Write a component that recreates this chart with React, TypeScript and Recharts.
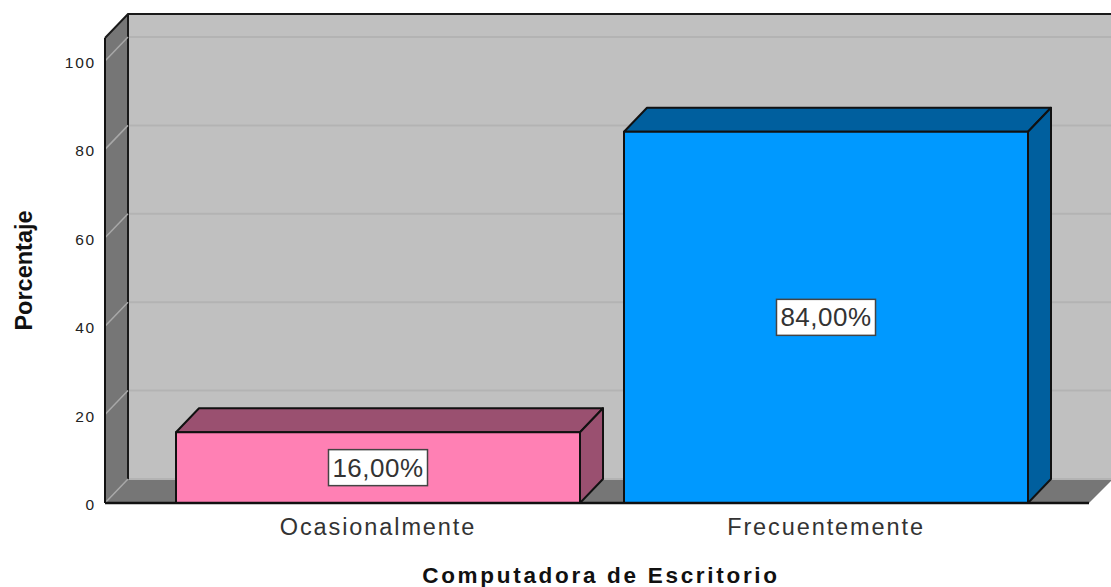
import React from 'react';
import { BarChart, Bar, XAxis, YAxis, Cell, LabelList, CartesianGrid } from 'recharts';

const categories = ['Ocasionalmente', 'Frecuentemente'];
const percentages = [16, 84];
const frontColors = ['#ff80b4', '#0099ff'];
const shadeColors = ['#9a5070', '#005f9e'];
const yTicks = [0, 20, 40, 60, 80, 100];

const data = categories.map((name, i) => ({ name, value: percentages[i] }));

const WIDTH = 1111;
const HEIGHT = 587;
const LEFT = 105;
const RIGHT = 1089;
const TOP = 38;
const BOTTOM = 503;
const DX = 23;
const DY = 24;
const FONT = '"Liberation Sans", Arial, sans-serif';

// box walls sit in their own svg behind the chart, the chart svg is transparent
const Walls = () => (
  <svg width={WIDTH} height={HEIGHT} style={{ position: 'absolute', left: 0, top: 0 }}>
    <polygon
      points={`${LEFT + DX},${TOP - DY} ${WIDTH + 2},${TOP - DY} ${WIDTH + 2},${BOTTOM - DY} ${LEFT + DX},${BOTTOM - DY}`}
      fill="#c0c0c0"
    />
    <polygon
      points={`${LEFT},${TOP} ${LEFT + DX},${TOP - DY} ${LEFT + DX},${BOTTOM - DY} ${LEFT},${BOTTOM}`}
      fill="#767676"
    />
    <polygon
      points={`${LEFT},${BOTTOM} ${LEFT + DX},${BOTTOM - DY} ${WIDTH + 2},${BOTTOM - DY} ${RIGHT},${BOTTOM}`}
      fill="#767676"
    />
    <path
      d={`M${LEFT},${TOP} L${LEFT + DX},${TOP - DY} L${WIDTH + 2},${TOP - DY} M${LEFT + DX},${TOP - DY} L${LEFT + DX},${BOTTOM - DY}`}
      fill="none"
      stroke="#1a1a1a"
      strokeWidth={2}
    />
  </svg>
);

// grid line runs over the side wall and then along the back wall
const WallGridLine = ({ y1 }: any) => (
  <g>
    <line x1={LEFT} y1={y1} x2={LEFT + DX} y2={y1 - DY} stroke="#a8a8a8" strokeWidth={1.5} />
    <line x1={LEFT + DX + 1} y1={y1 - DY} x2={WIDTH} y2={y1 - DY} stroke="#b3b3b3" strokeWidth={2} />
  </g>
);

const WallTick = ({ x, y, payload }: any) => (
  <text x={x} y={y + 7} textAnchor="end" fontFamily={FONT} fontSize={15.5} letterSpacing={1.8} fill="#222">
    {payload.value}
  </text>
);

const Bar3D = ({ x, y, width, height, index }: any) => {
  const shade = shadeColors[index];
  const right = x + width;
  const bottom = y + height;
  return (
    <g stroke="#111" strokeWidth={2} strokeLinejoin="round">
      <polygon points={`${x},${y} ${x + DX},${y - DY} ${right + DX},${y - DY} ${right},${y}`} fill={shade} />
      <polygon points={`${right},${y} ${right + DX},${y - DY} ${right + DX},${bottom - DY} ${right},${bottom}`} fill={shade} />
      <rect x={x} y={y} width={width} height={height} fill={frontColors[index]} />
    </g>
  );
};

const ValueBox = ({ x, y, width, height, value }: any) => {
  const cx = x + width / 2;
  const cy = y + height / 2;
  return (
    <g>
      <rect x={cx - 49.5} y={cy - 18} width={99} height={36} fill="#fff" stroke="#444" strokeWidth={1.5} />
      <text x={cx} y={cy + 9} textAnchor="middle" fontFamily={FONT} fontSize={26} letterSpacing={0.5} fill="#333">
        {value.toFixed(2).replace('.', ',') + '%'}
      </text>
    </g>
  );
};

export default function App() {
  return (
    <div style={{ position: 'absolute', left: 0, top: 0, width: WIDTH, height: HEIGHT, background: '#fff' }}>
      <Walls />
      <div style={{ position: 'absolute', left: 0, top: 0 }}>
        <BarChart
          width={WIDTH}
          height={HEIGHT}
          data={data}
          margin={{ top: TOP, right: WIDTH - RIGHT, bottom: 0, left: 0 }}
        >
          <CartesianGrid vertical={false} horizontalValues={yTicks} horizontal={(p: any) => <WallGridLine key={p.y1} {...p} />} />
          <XAxis
            dataKey="name"
            height={HEIGHT - BOTTOM}
            padding={{ left: 49, right: 39 }}
            tickLine={false}
            axisLine={{ stroke: '#111', strokeWidth: 2.5 }}
            tick={{ fontFamily: FONT, fontSize: 23.5, letterSpacing: 1.9, fill: '#333' }}
            tickMargin={9}
            label={{
              value: 'Computadora de Escritorio',
              position: 'insideBottom',
              offset: 4,
              dx: 4,
              fontFamily: FONT,
              fontSize: 22.5,
              fontWeight: 700,
              letterSpacing: 2.7,
              fill: '#111',
            }}
          />
          <YAxis
            width={LEFT}
            domain={[0, 105.2]}
            ticks={yTicks}
            interval={0}
            allowDataOverflow
            tickLine={false}
            tickSize={0}
            tickMargin={9}
            axisLine={{ stroke: '#111', strokeWidth: 2 }}
            tick={<WallTick />}
            label={{
              value: 'Porcentaje',
              angle: -90,
              position: 'insideLeft',
              dx: 19,
              textAnchor: 'middle',
              fontFamily: FONT,
              fontSize: 23.5,
              fontWeight: 700,
              fill: '#111',
            }}
          />
          <Bar dataKey="value" barSize={404} shape={<Bar3D />} isAnimationActive={false}>
            {data.map((d, i) => (
              <Cell key={d.name} fill={frontColors[i]} />
            ))}
            <LabelList dataKey="value" content={<ValueBox />} />
          </Bar>
        </BarChart>
      </div>
    </div>
  );
}
